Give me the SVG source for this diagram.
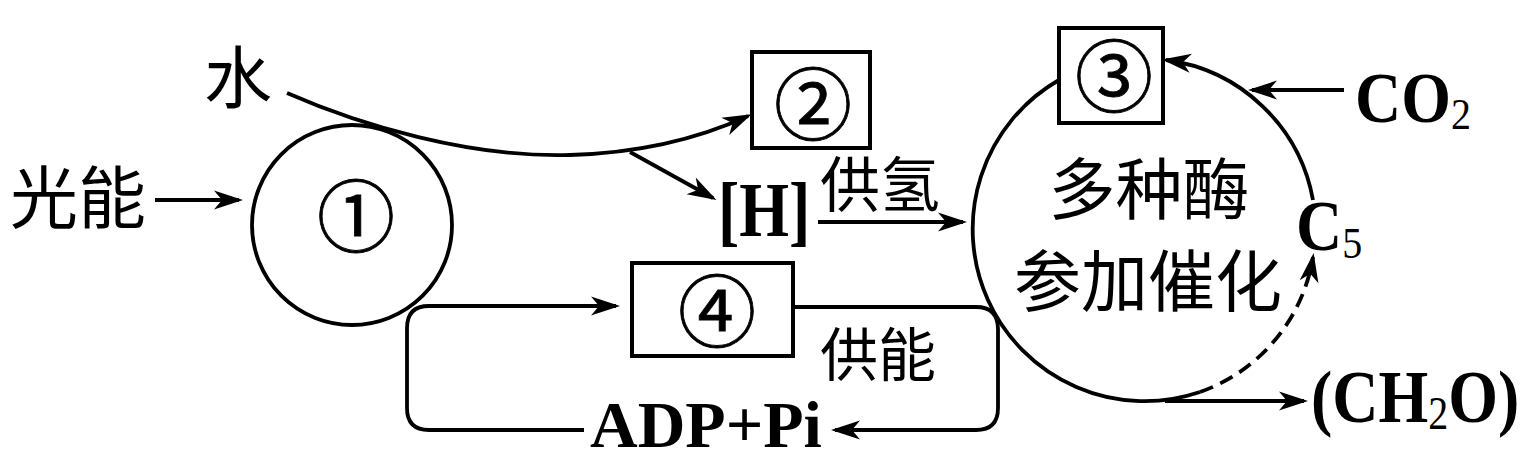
<svg xmlns="http://www.w3.org/2000/svg" width="1538" height="464" viewBox="0 0 1538 464">
<defs>
<style>
.ln{fill:none;stroke:#000;stroke-width:3.8}
.bx{fill:#fff;stroke:#000;stroke-width:4}
.cj{font-family:"Noto Sans CJK SC","Noto Sans CJK JP",sans-serif;fill:#000}
.sf{font-family:"Liberation Serif","Times New Roman",serif;font-weight:bold;fill:#000}
.sub{font-weight:normal}
.num{font-family:"Noto Sans CJK SC","DejaVu Sans",sans-serif;font-size:78px;font-weight:normal;text-anchor:middle;fill:#000;stroke:#000;stroke-width:0.8}
</style>
<marker id="ah" markerUnits="userSpaceOnUse" markerWidth="40" markerHeight="30" viewBox="-30 -15 40 30" refX="0" refY="0" orient="auto" overflow="visible">
<path d="M4,0 L-25,-9.5 L-17,0 L-25,9.5 Z" fill="#000"/>
</marker>
</defs>
<rect width="1538" height="464" fill="#fff"/>

<g id="connectors">
<path class="ln" d="M287,93 C360,125 470,158 570,155 C640,153 700,138 748,116" marker-end="url(#ah)"/>
<path class="ln" d="M630,152 L713,198" marker-end="url(#ah)"/>
<path class="ln" d="M155,200 L239,200" marker-end="url(#ah)"/>
<path class="ln" d="M818,222 L963,222" marker-end="url(#ah)"/>
<path class="ln" d="M1344,90 L1252,90" marker-end="url(#ah)"/>
<path class="ln" d="M1165,401 L1304,401" marker-end="url(#ah)"/>
<path class="ln" d="M584,430 L429,430 Q407,430 407,408 L407,328 Q407,306 429,306 L616,306" marker-end="url(#ah)"/>
<path class="ln" d="M794,307 L976,307 Q998,307 998,329 L998,408 Q998,430 976,430 L835,430" marker-end="url(#ah)"/>
<path class="ln" d="M1313,200 A172,172 0 0 0 1166,60" marker-end="url(#ah)"/>
<path class="ln" d="M1200,392 A172,172 0 0 0 1313,257" stroke-dasharray="14 8" marker-end="url(#ah)"/>
</g>

<g id="cycle">
<path class="ln" d="M1059,80 A172,172 0 0 0 1200,392"/>
<text class="cj" x="1149" y="214" font-size="67" text-anchor="middle">多种酶</text>
<text class="cj" x="1148" y="306" font-size="67" text-anchor="middle">参加催化</text>
</g>

<g id="node1">
<circle class="ln" cx="352" cy="225" r="100"/>
<text class="num" x="356" y="246">①</text>
</g>

<g id="node2">
<rect class="bx" x="752" y="52" width="118" height="96"/>
<text class="num" x="813" y="134">②</text>
</g>

<g id="node3">
<rect class="bx" x="1059" y="28" width="104" height="95"/>
<text class="num" x="1114" y="106">③</text>
</g>

<g id="node4">
<rect class="bx" x="632" y="263" width="161" height="93"/>
<text class="num" x="717" y="341">④</text>
</g>

<g id="labels">
<text class="cj" x="238" y="103" font-size="68" text-anchor="middle">水</text>
<text class="cj" x="10" y="223" font-size="68">光能</text>
<text class="sf" font-size="64" transform="translate(718,236) scale(1,1.22)">[H]</text>
<text class="cj" x="820" y="207" font-size="60">供氢</text>
<text class="cj" x="820" y="376" font-size="58">供能</text>
<text class="sf" x="590" y="447" font-size="66">ADP+Pi</text>
<text class="sf" font-size="64" transform="translate(1355,122) scale(1,1.12)">CO<tspan class="sub" font-size="40" dy="6">2</tspan></text>
<text class="sf" font-size="64" transform="translate(1296,250) scale(1,1.12)">C<tspan class="sub" font-size="40" dy="7">5</tspan></text>
<text class="sf" font-size="64" transform="translate(1311,422) scale(1,1.15)">(CH<tspan class="sub" font-size="40" dy="6">2</tspan><tspan dy="-6">O)</tspan></text>
</g>
</svg>
